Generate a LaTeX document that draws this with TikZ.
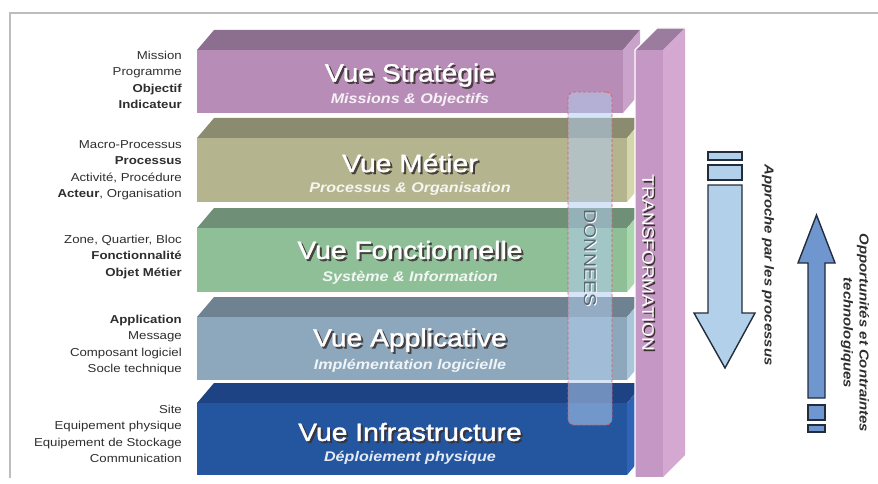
\documentclass[tikz,border=0pt]{standalone}
\usepackage{fontspec}
\setmainfont{Liberation Sans}[FakeStretch=1.15]
\newfontfamily\vuefont{Liberation Sans}[FakeStretch=1.13, FakeBold=1.3]

\definecolor{strat-front}{HTML}{B78DB7}
\definecolor{strat-top}{HTML}{8C6F8E}
\definecolor{strat-side}{HTML}{CAA3CB}
\definecolor{metier-front}{HTML}{B4B48F}
\definecolor{metier-top}{HTML}{8B8B6F}
\definecolor{metier-side}{HTML}{D6D6AC}
\definecolor{fonct-front}{HTML}{8EBF97}
\definecolor{fonct-top}{HTML}{6F8F77}
\definecolor{fonct-side}{HTML}{A9D8AE}
\definecolor{appli-front}{HTML}{8DA8BC}
\definecolor{appli-top}{HTML}{6F8291}
\definecolor{appli-side}{HTML}{A9C6DB}
\definecolor{infra-front}{HTML}{2456A0}
\definecolor{infra-top}{HTML}{1D4384}
\definecolor{infra-side}{HTML}{2F63B5}
\definecolor{col-front}{HTML}{C497C4}
\definecolor{col-top}{HTML}{9C7C9E}
\definecolor{col-side}{HTML}{D5A8D2}
\definecolor{donnees-fill}{HTML}{B3CDEE}
\definecolor{donnees-red}{HTML}{E05A5A}
\definecolor{down-fill}{HTML}{B3D0EA}
\definecolor{up-fill}{HTML}{6F96CF}
\definecolor{arrowline}{HTML}{222C3A}
\definecolor{shadowgray}{HTML}{3A3030}
\definecolor{labelgray}{HTML}{2E2E2E}
\definecolor{framegray}{HTML}{BDBDBD}

\begin{document}
\begin{tikzpicture}[
  x=1pt, y=-1pt,
  vue/.style={font=\vuefont\fontsize{25}{25}\selectfont, text=white, inner sep=0pt},
  vue shadow/.style={vue, text=shadowgray, text opacity=0.85},
  vue sub/.style={font=\fontsize{14}{14}\selectfont\bfseries\itshape, text=white, text opacity=0.88, inner sep=0pt},
  lbl/.style={font=\fontsize{11.5}{16.5}\selectfont, text=labelgray, align=right, anchor=east, inner sep=0pt},
  side txt/.style={font=\fontsize{13}{16}\selectfont\bfseries\itshape, text=labelgray, rotate=-90, align=center, inner sep=0pt},
  arrowbody/.style={draw=arrowline, line width=1.4pt, line join=miter},
]
\useasboundingbox (0,0) rectangle (878,484);

% frame
\draw[framegray, line width=1.5pt] (878,13) -- (10,13) -- (10,478);

% the five views
\foreach \nm/\yt/\yb/\xr in {strat/50/113/623, metier/138/202/627, fonct/228/292/627, appli/317/380/627, infra/403/475/627}{
  \fill[fill=\nm-top] (197,\yt) -- (214,\yt-20) -- (\xr+17,\yt-20) -- (\xr,\yt) -- cycle;
  \fill[fill=\nm-side] (\xr,\yt) -- (\xr+17,\yt-20) -- (\xr+17,\yb-20) -- (\xr,\yb) -- cycle;
  \fill[fill=\nm-front] (197,\yt) rectangle (\xr,\yb);
}

% transformation column
\fill[col-top] (635,50) -- (657,28) -- (685,28) -- (663,50) -- cycle;
\fill[col-side] (663,50) -- (685,28) -- (685,455) -- (663,477) -- cycle;
\fill[col-front] (635,50) rectangle (663,477);
\draw[white, line width=1.2pt] (635,477) -- (635,50) -- (657,28) -- (685,28);
\node[font=\fontsize{16.5}{16.5}\selectfont, text=shadowgray, rotate=-90, inner sep=0pt] (transfo-sh) at (649.5,264.5) {TRANSFORMATION};
\node[font=\fontsize{16.5}{16.5}\selectfont, text=white, rotate=-90, inner sep=0pt] (transfo) at (648,263) {TRANSFORMATION};

% titles
\node[vue shadow] (strat-sh) at (412,77) {Vue Stratégie};
\node[vue] (strat) at (410,75) {Vue Stratégie};
\node[vue sub] (strat-sub) at (410,100) {Missions \& Objectifs};

\node[vue shadow] (metier-sh) at (412,165) {Vue Métier};
\node[vue] (metier) at (410,163) {Vue Métier};
\node[vue sub] (metier-sub) at (410,189) {Processus \& Organisation};

\node[vue shadow] (fonct-sh) at (412,252) {Vue Fonctionnelle};
\node[vue] (fonct) at (410,250) {Vue Fonctionnelle};
\node[vue sub] (fonct-sub) at (410,278) {Système \& Information};

\node[vue shadow] (appli-sh) at (412,342) {Vue Applicative};
\node[vue] (appli) at (410,340) {Vue Applicative};
\node[vue sub] (appli-sub) at (410,366) {Implémentation logicielle};

\node[vue shadow] (infra-sh) at (412,434) {Vue Infrastructure};
\node[vue] (infra) at (410,432) {Vue Infrastructure};
\node[vue sub] (infra-sub) at (410,458) {Déploiement physique};

% donnees
\node[draw=donnees-red, dash pattern=on 3pt off 2pt, line width=0.8pt, rounded corners=6pt,
      fill=donnees-fill, fill opacity=0.55, minimum width=44pt, minimum height=333pt, inner sep=0pt] (donnees) at (590,258.5) {};
\node[font=\fontsize{17}{17}\selectfont, text=white, rotate=-90, inner sep=0pt] (donnees-sh) at (591,259) {DONNEES};
\node[font=\fontsize{17}{17}\selectfont, text=appli-top!80!black, rotate=-90, inner sep=0pt] (donnees-txt) at (590,258) {DONNEES};

% left labels
\node[lbl] (strat-lbl) at (182,80) {Mission\\Programme\\\textbf{Objectif}\\\textbf{Indicateur}};
\node[lbl] (metier-lbl) at (182,170) {Macro-Processus\\\textbf{Processus}\\Activité, Procédure\\\textbf{Acteur}, Organisation};
\node[lbl] (fonct-lbl) at (182,257) {Zone, Quartier, Bloc\\\textbf{Fonctionnalité}\\\textbf{Objet Métier}};
\node[lbl] (appli-lbl) at (182,345) {\textbf{Application}\\Message\\Composant logiciel\\Socle technique};
\node[lbl] (infra-lbl) at (182,434) {Site\\Equipement physique\\Equipement de Stockage\\Communication};

% arrows
\draw[arrowbody, fill=down-fill] (708,152) rectangle (742,160);
\draw[arrowbody, fill=down-fill] (708,165) rectangle (742,180);
\draw[arrowbody, fill=down-fill] (708,185) -- (742,185) -- (742,313) -- (755,313) -- (725,368) -- (694,313) -- (708,313) -- cycle;

\draw[arrowbody, fill=up-fill] (808,398) -- (808,263) -- (798,263) -- (816.5,215) -- (835,263) -- (825,263) -- (825,398) -- cycle;
\draw[arrowbody, fill=up-fill] (808,405) rectangle (825,420);
\draw[arrowbody, fill=up-fill] (808,425) rectangle (825,432);

\node[side txt] (approche) at (768,265) {Approche par les processus};
\node[side txt] (opportunites) at (855,333) {Opportunités et Contraintes\\technologiques};
\end{tikzpicture}
\end{document}
